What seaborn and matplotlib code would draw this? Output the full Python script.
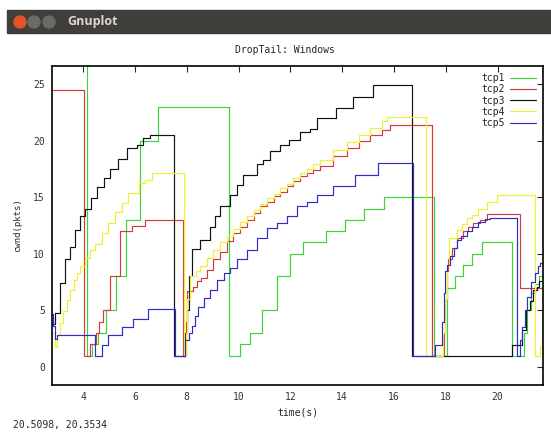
import numpy as np
import pandas as pd
import seaborn as sns
import matplotlib.pyplot as plt
from matplotlib.patches import Rectangle, Ellipse

# (time, cwnd) samples, drawn as steps
tcp1 = [(2.8, 30), (4.14, 1), (4.35, 2), (4.56, 3), (4.9, 5), (5.27, 8), (5.65, 13), (6.18, 20),
        (6.9, 23), (9.65, 1), (10.06, 2), (10.45, 3), (10.9, 5), (11.48, 8), (11.99, 10), (12.5, 11),
        (13.37, 12), (14.1, 13), (14.84, 14), (15.6, 15), (17.53, 1), (18.04, 7), (18.36, 8),
        (18.68, 9), (19.0, 10), (19.39, 11), (20.55, 1), (21.0, 3), (21.15, 5), (21.3, 6.5),
        (21.45, 7.3), (21.6, 8), (21.75, 8.5)]
tcp2 = [(2.8, 24.5), (4.05, 1), (4.27, 2), (4.5, 3), (4.62, 4), (4.78, 5), (5.05, 8), (5.43, 12),
        (5.9, 12.5), (6.4, 13), (7.85, 1), (7.97, 4), (8.0, 6.7), (8.25, 7.1), (8.4, 7.6), (8.55, 7.9),
        (8.77, 8.6), (9.03, 9.5), (9.29, 10.2), (9.55, 11.1), (9.8, 11.8), (10.06, 12.4), (10.32, 13.0),
        (10.58, 13.6), (10.83, 14.2), (11.09, 14.6), (11.35, 15.1), (11.6, 15.5), (11.86, 16.0),
        (12.12, 16.4), (12.38, 16.85), (12.63, 17.1), (12.89, 17.4), (13.15, 17.73), (13.66, 18.6),
        (14.18, 19.35), (14.63, 19.94), (15.08, 20.5), (15.53, 20.97), (15.85, 21.4), (17.46, 1),
        (17.93, 3), (17.98, 6), (18.03, 8.5), (18.1, 9.5), (18.25, 10.5), (18.45, 11.4), (18.65, 12.0),
        (18.85, 12.4), (19.05, 12.7), (19.3, 13.0), (19.6, 13.5), (20.87, 7), (21.75, 7)]
tcp3 = [(2.8, 3.8), (2.92, 4.75), (3.11, 7.4), (3.3, 9.5), (3.5, 10.6), (3.69, 12.1), (3.88, 13.3),
        (4.08, 14.0), (4.3, 14.9), (4.55, 15.9), (4.8, 16.7), (5.05, 17.5), (5.36, 18.4), (5.69, 19.35),
        (6.07, 19.65), (6.33, 20.2), (6.59, 20.5), (7.49, 1), (7.95, 3), (8.0, 5), (8.1, 8), (8.2, 10.4),
        (8.52, 11.2), (8.9, 12.4), (9.1, 13.3), (9.29, 14.2), (9.68, 15.2), (9.93, 16.1), (10.19, 17.0),
        (10.7, 17.9), (10.96, 18.3), (11.22, 19.1), (11.6, 19.6), (11.93, 20.1), (12.38, 20.8),
        (12.76, 21.0), (13.02, 22.0), (13.75, 22.9), (14.4, 23.9), (15.2, 24.9), (16.69, 1),
        (20.54, 1.9), (20.95, 3.3), (21.1, 5.0), (21.25, 5.8), (21.35, 6.8), (21.5, 7.1), (21.6, 7.6),
        (21.75, 8.0)]
tcp4 = [(2.8, 3.0), (2.9, 1.8), (3.0, 2.8), (3.11, 3.9), (3.24, 4.9), (3.37, 5.9), (3.5, 6.8),
        (3.63, 7.7), (3.76, 8.3), (3.88, 8.9), (4.08, 9.6), (4.27, 10.3), (4.46, 10.9), (4.72, 11.8),
        (4.98, 12.7), (5.24, 13.7), (5.49, 14.5), (5.75, 15.4), (6.14, 16.25), (6.39, 16.5), (6.65, 17.1),
        (7.91, 1), (7.96, 3), (8.0, 6), (8.13, 8.0), (8.35, 8.5), (8.52, 8.9), (8.77, 9.6), (9.03, 10.3),
        (9.29, 11.0), (9.55, 11.6), (9.8, 12.2), (10.06, 12.8), (10.32, 13.3), (10.58, 13.9),
        (10.83, 14.4), (11.09, 14.9), (11.35, 15.3), (11.6, 15.8), (11.86, 16.2), (12.12, 16.7),
        (12.38, 17.1), (12.63, 17.5), (12.89, 17.9), (13.15, 18.3), (13.66, 19.2), (14.18, 19.9),
        (14.63, 20.5), (15.08, 21.1), (15.53, 21.7), (15.73, 22.1), (17.24, 1), (17.9, 3), (17.97, 6),
        (18.05, 9), (18.12, 11.4), (18.43, 12.1), (18.62, 12.6), (18.81, 13.2), (19.0, 13.45),
        (19.26, 14.0), (19.59, 14.6), (19.97, 15.2), (21.45, 1), (21.64, 1.8), (21.75, 1.8)]
tcp5 = [(2.8, 4.7), (2.85, 3.6), (2.9, 2.5), (2.98, 2.8), (4.46, 1), (4.72, 1.9), (4.98, 2.8),
        (5.49, 3.5), (5.94, 4.2), (6.52, 5.1), (7.55, 1), (7.94, 2.4), (8.07, 3.0), (8.2, 3.6),
        (8.32, 4.5), (8.45, 5.3), (8.65, 6.1), (8.9, 6.8), (9.16, 7.7), (9.42, 8.3), (9.68, 8.7),
        (9.93, 9.5), (10.32, 10.36), (10.7, 11.4), (11.09, 12.3), (11.48, 12.7), (11.86, 13.3),
        (12.25, 14.2), (12.63, 14.6), (13.02, 15.2), (13.66, 16.0), (14.5, 17.0), (15.4, 18.0),
        (16.75, 1), (17.59, 1.95), (17.87, 4), (17.92, 6.5), (17.97, 8.5), (18.05, 9.0), (18.15, 9.8),
        (18.3, 10.5), (18.45, 11.2), (18.6, 11.6), (18.8, 12.0), (19.0, 12.4), (19.25, 12.8),
        (19.5, 13.1), (19.7, 13.2), (20.74, 1), (20.87, 2.4), (20.95, 3.5), (21.05, 5.0), (21.15, 6.2),
        (21.3, 7.5), (21.45, 8.3), (21.55, 8.9), (21.65, 9.2), (21.75, 9.2)]

flows = ["tcp1", "tcp2", "tcp3", "tcp4", "tcp5"]
colors = ["#3cd43c", "#d93838", "#111111", "#f0f02c", "#2c2cc8"]

frames = []
for name, pts in zip(flows, [tcp1, tcp2, tcp3, tcp4, tcp5]):
    df = pd.DataFrame(pts, columns=["time", "cwnd"])
    df["flow"] = name
    frames.append(df)
data = pd.concat(frames, ignore_index=True)

sns.set_theme(style="white")
plt.rcParams["font.family"] = ["DejaVu Sans Mono"]

W, H = 551, 433
fig = plt.figure(figsize=(W / 100, H / 100), dpi=100)
fig.patch.set_facecolor("white")

# window title bar
fig.patches.append(Rectangle((7 / W, 1 - 33 / H), 1, 23 / H, transform=fig.transFigure,
                             color="#3f3e3a", zorder=0))
for cx, col in [(20, "#e2532a"), (34, "#6b6a65"), (49, "#6b6a65")]:
    fig.patches.append(Ellipse((cx / W, 1 - 22 / H), 12 / W, 12 / H, transform=fig.transFigure,
                               color=col, zorder=1))
fig.text(67 / W, 1 - 22 / H, "Gnuplot", family="Open Sans", weight="bold", fontsize=9,
         color="#dcd8cf", va="center")

ax = fig.add_axes([52 / W, 1 - 385 / H, (543 - 52) / W, (385 - 66) / H])
sns.lineplot(data=data, x="time", y="cwnd", hue="flow", palette=dict(zip(flows, colors)),
             estimator=None, sort=False, drawstyle="steps-post", linewidth=0.85, ax=ax)

ax.set_xlim(2.8, 21.75)
ax.set_ylim(-1.6, 26.6)
ax.set_xticks(np.arange(4, 21, 2))
ax.set_yticks(np.arange(0, 26, 5))
ax.tick_params(direction="in", top=True, right=True, length=4, width=0.8, labelsize=7,
               labelcolor="#333333", pad=5)
for s in ax.spines.values():
    s.set_color("black")
    s.set_linewidth(1.2)
ax.set_xlabel("time(s)", fontsize=7, labelpad=4)
ax.set_ylabel("cwnd(pkts)", fontsize=6.5, labelpad=8)

handles, labels = ax.get_legend_handles_labels()
ax.legend(handles, labels, loc="upper right", markerfirst=False, frameon=False, fontsize=7,
          handlelength=2.6, labelspacing=0.12, borderaxespad=0.35, handletextpad=0.6)

fig.text(285 / W, 1 - 50 / H, "DropTail: Windows", ha="center", va="center", fontsize=7)
fig.text(13 / W, 1 - 425 / H, "20.5098, 20.3534", va="center", fontsize=7)

fig.savefig("out.png", dpi=100)
